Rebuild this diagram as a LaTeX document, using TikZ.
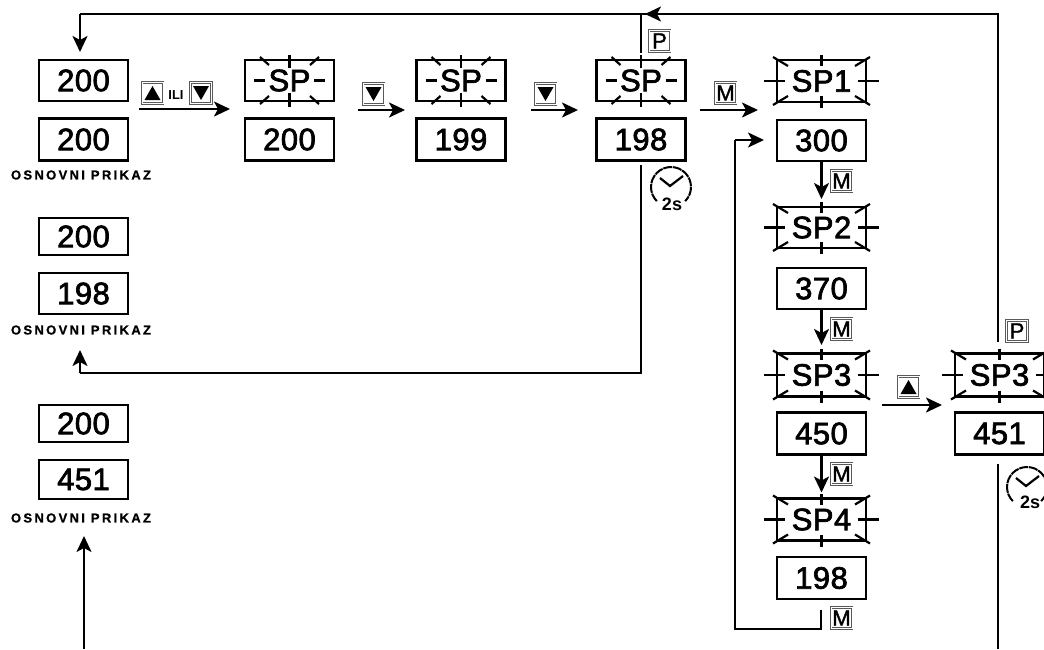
\documentclass[tikz,border=0pt]{standalone}
\usepackage{fontspec}
\setmainfont{Liberation Sans}
\newfontfamily\dispfont[RawFeature={embolden=2.2},LetterSpace=1.5]{Liberation Sans}
\newfontfamily\btnfont[RawFeature={embolden=1.5}]{Liberation Sans}
\newfontfamily\lblfont[LetterSpace=18,RawFeature={embolden=0.8}]{Liberation Sans Bold}
\usetikzlibrary{arrows.meta,calc}
\tikzset{
  dbox/.style={draw=black,line width=2.6pt,fill=white,inner sep=0pt,outer sep=0pt,minimum width=89pt,
    font=\dispfont\fontsize{31}{31}\selectfont},
  btn/.style={draw=black!65,line width=1pt,double=white,double distance=0.8pt,fill=white,inner sep=0pt,outer sep=0pt,minimum size=21pt,
    font=\btnfont\fontsize{22}{22}\selectfont},
  lbl/.style={inner sep=0pt,font=\lblfont\fontsize{13}{13}\selectfont},
  flow/.style={draw=black,line width=2.2pt,-{Stealth[length=16pt,width=15pt,inset=4pt]}},
  wire/.style={draw=black,line width=2.2pt},
  tick/.style={draw=black,line width=2.2pt},
  clockn/.style={circle,minimum size=40pt,inner sep=0pt},
  clocktxt/.style={inner sep=0pt,font=\bfseries\fontsize{18}{18}\selectfont}
}
\newcommand{\flashA}[1]{%
  \draw[tick] ($(#1.north)+(0,-5)$) -- ($(#1.north)+(0,8)$);
  \draw[tick] ($(#1.south)+(0,-8)$) -- ($(#1.south)+(0,6)$);
  \draw[tick] ($(#1.west)+(9,0)$) -- ($(#1.west)+(20,0)$);
  \draw[tick] ($(#1.east)+(-20,0)$) -- ($(#1.east)+(-9,0)$);
  \draw[tick] ($(#1.north west)+(15,-3)$) -- ($(#1.north west)+(24,5)$);
  \draw[tick] ($(#1.north east)+(-15,-3)$) -- ($(#1.north east)+(-24,5)$);
  \draw[tick] ($(#1.south west)+(15,3)$) -- ($(#1.south west)+(24,-5)$);
  \draw[tick] ($(#1.south east)+(-15,3)$) -- ($(#1.south east)+(-24,-5)$);
}
\newcommand{\flashB}[1]{%
  \draw[tick] ($(#1.north)+(0,-5)$) -- ($(#1.north)+(0,6)$);
  \draw[tick] ($(#1.south)+(0,-6)$) -- ($(#1.south)+(0,6)$);
  \draw[tick] ($(#1.west)+(-13,0)$) -- ($(#1.west)+(8,0)$);
  \draw[tick] ($(#1.east)+(-8,0)$) -- ($(#1.east)+(13,0)$);
  \draw[tick] ($(#1.north west)+(-4,-3)$) -- ($(#1.north west)+(11,6)$);
  \draw[tick] ($(#1.north east)+(4,-3)$) -- ($(#1.north east)+(-11,6)$);
  \draw[tick] ($(#1.south west)+(-4,3)$) -- ($(#1.south west)+(11,-6)$);
  \draw[tick] ($(#1.south east)+(4,3)$) -- ($(#1.south east)+(-11,-6)$);
}
\newcommand{\uptri}[1]{\fill ($(#1.center)+(-8,7)$) -- ($(#1.center)+(8,7)$) -- ($(#1.center)+(0,-7)$) -- cycle;}
\newcommand{\dntri}[1]{\fill ($(#1.center)+(-8,-7)$) -- ($(#1.center)+(8,-7)$) -- ($(#1.center)+(0,7)$) -- cycle;}
\newcommand{\clockface}[1]{%
  \draw[line width=2pt,dash pattern=on 9pt off 0.8pt] (#1.center) ++(135:20) arc[start angle=135,end angle=405,radius=20];
  \draw[line width=2.2pt] ($(#1.center)+(-11,-9)$) -- ($(#1.center)+(-1,-1)$) -- ($(#1.center)+(12,-11)$);
}
\begin{document}
\begin{tikzpicture}[x=1pt,y=-1pt]
\clip (0,0) rectangle (1044,649);
\fill[white] (0,0) rectangle (1044,649);

% connectors first
\coordinate (tl) at (80,14);
\coordinate (mainin) at (80,52);
\coordinate (retr) at (998,342);
\coordinate (rett) at (998,14);
\coordinate (ptop) at (641,53);
\coordinate (ptopj) at (641,14);
\coordinate (mid) at (645,14);
\draw[wire] (retr) -- (rett) -- (tl);
\draw[flow] (tl) -- (mainin);
\draw[wire] (ptop) -- (ptopj);
\draw[flow] (rett) -- (mid);

\coordinate (t1a) at (641,165);
\coordinate (t1b) at (641,373);
\coordinate (t1c) at (80,373);
\coordinate (t1d) at (80,350);
\draw[wire] (t1a) -- (t1b) -- (t1c);
\draw[flow] (t1c) -- (t1d);

\coordinate (t2a) at (998,464);
\coordinate (t2b) at (998,649);
\draw[wire] (t2a) -- (t2b);
\coordinate (u1) at (84,649);
\coordinate (u2) at (84,536);
\draw[flow] (u1) -- (u2);

\coordinate (la) at (821,610);
\coordinate (lb) at (821,629);
\coordinate (lc) at (735,629);
\coordinate (ld) at (735,140);
\coordinate (le) at (764,140);
\draw[wire] (la) -- (lb) -- (lc) -- (ld);
\draw[flow] (ld) -- (le);

\coordinate (h1a) at (139,109);
\coordinate (h1b) at (230,109);
\coordinate (h2a) at (358,110);
\coordinate (h2b) at (405,110);
\coordinate (h3a) at (531,110);
\coordinate (h3b) at (578,110);
\coordinate (h4a) at (700,110);
\coordinate (h4b) at (758,110);
\coordinate (h5a) at (882,405);
\coordinate (h5b) at (942,405);
\draw[flow] (h1a) -- (h1b);
\draw[flow] (h2a) -- (h2b);
\draw[flow] (h3a) -- (h3b);
\draw[flow] (h4a) -- (h4b);
\draw[flow] (h5a) -- (h5b);

% displays, column 1
\node[dbox,minimum height=41pt] (a1) at (83.5,80.5) {200};
\node[dbox,minimum height=42pt] (a2) at (83.5,139.5) {200};
\node[lbl] (a3) at (81,175) {OSNOVNI PRIKAZ};
\node[dbox,minimum height=37pt] (b1) at (83.5,236.5) {200};
\node[dbox,minimum height=41pt] (b2) at (83.5,293.5) {198};
\node[lbl] (b3) at (81,330) {OSNOVNI PRIKAZ};
\node[dbox,minimum height=37pt] (c1) at (83.5,423.5) {200};
\node[dbox,minimum height=39pt] (c2) at (83.5,479.5) {451};
\node[lbl] (c3) at (81,518) {OSNOVNI PRIKAZ};

% top row
\node[dbox,minimum height=41pt] (s1) at (289.5,80.5) {SP};
\node[dbox,minimum height=42pt] (v1) at (289.5,139.5) {200};
\node[dbox,minimum height=41pt] (s2) at (461,80.5) {SP};
\node[dbox,minimum height=42pt] (v2) at (461,139.5) {199};
\node[dbox,minimum height=41pt] (s3) at (641,80.5) {SP};
\node[dbox,minimum height=42pt] (v3) at (641,139.5) {198};
\flashA{s1}\flashA{s2}\flashA{s3}

% SP column
\node[dbox,minimum height=42pt] (p1) at (821.5,81) {SP1};
\node[dbox,minimum height=41pt] (q1) at (821.5,140.5) {300};
\node[dbox,minimum height=41pt] (p2) at (821.5,227.5) {SP2};
\node[dbox,minimum height=41pt] (q2) at (821.5,288.5) {370};
\node[dbox,minimum height=43pt] (p3) at (821.5,375) {SP3};
\node[dbox,minimum height=42pt] (q3) at (821.5,433.5) {450};
\node[dbox,minimum height=42pt] (p4) at (821.5,519.5) {SP4};
\node[dbox,minimum height=42pt] (q4) at (821.5,578) {198};
\node[dbox,minimum height=43pt] (p5) at (999.5,375) {SP3};
\node[dbox,minimum height=42pt] (q5) at (999.5,433.5) {451};
\flashB{p1}\flashB{p2}\flashB{p3}\flashB{p4}\flashB{p5}

% down arrows
\draw[flow] (q1.south) -- ($(q1.south)+(0,38)$);
\draw[flow] (q2.south) -- ($(q2.south)+(0,36)$);
\draw[flow] (q3.south) -- ($(q3.south)+(0,38)$);

% buttons
\node[btn] (bu) at (152.5,93) {};
\uptri{bu}
\node[inner sep=0pt,font=\bfseries\fontsize{13}{13}\selectfont] (ili) at (176,95) {ILI};
\node[btn] (bd) at (201,93) {};
\dntri{bd}
\node[btn] (bd2) at (373.5,94) {};
\dntri{bd2}
\node[btn] (bd3) at (545.5,94) {};
\dntri{bd3}
\node[btn] (bm1) at (725.5,93) {M};
\node[btn] (bp1) at (659.5,41) {P};
\node[btn] (bm2) at (841.5,181) {M};
\node[btn] (bm3) at (841.5,329) {M};
\node[btn] (bm4) at (841.5,474) {M};
\node[btn] (bm5) at (841.5,618) {M};
\node[btn] (bp2) at (1017,331) {P};
\node[btn] (bu2) at (908.5,387) {};
\uptri{bu2}

% clocks
\node[clockn] (k1) at (671,187) {};
\clockface{k1}
\node[clocktxt] (k1t) at (672,204) {2s};
\node[clockn] (k2) at (1027,487) {};
\clockface{k2}
\node[clocktxt] (k2t) at (1030,502) {2s};
\end{tikzpicture}
\end{document}
